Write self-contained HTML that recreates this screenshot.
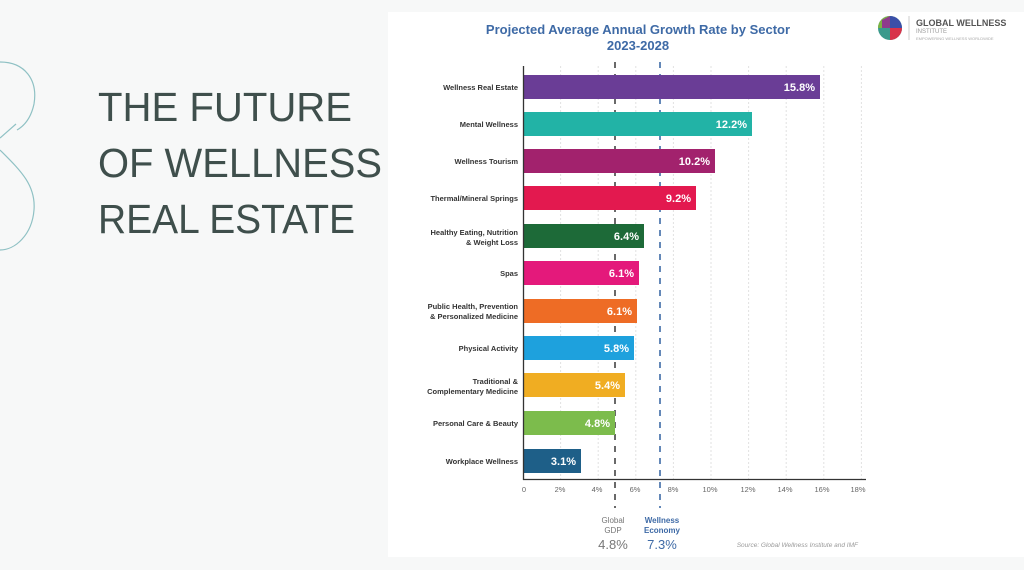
<!DOCTYPE html>
<html><head><meta charset="utf-8"><style>
html,body{margin:0;padding:0;background:#f7f8f8;}
svg{display:block;font-family:"Liberation Sans",sans-serif;}
</style></head><body>
<svg width="1024" height="570" viewBox="0 0 1024 570">
<rect width="1024" height="570" fill="#f7f8f8"/>
<!-- decorative 8 -->
<g fill="none" stroke="#8fc1c4" stroke-width="1.2">
<path d="M0,62 C25,62 38,80 34,104 C31,118 24,126 17,130"/>
<path d="M0,150 C20,170 36,185 34,210 C32,235 15,250 0,250"/>
<path d="M0,138 L16,124"/>
</g>
<g fill="#3f4f4c" font-size="41">
<text x="98" y="121" textLength="254" lengthAdjust="spacingAndGlyphs">THE FUTURE</text>
<text x="98" y="177" textLength="284" lengthAdjust="spacingAndGlyphs">OF WELLNESS</text>
<text x="98" y="233" textLength="257" lengthAdjust="spacingAndGlyphs">REAL ESTATE</text>
</g>
<!-- chart panel -->
<rect x="388" y="12" width="636" height="545" fill="#ffffff"/>
<text x="638" y="34" text-anchor="middle" font-size="13" font-weight="bold" fill="#3e6aa6">Projected Average Annual Growth Rate by Sector</text>
<text x="638" y="50" text-anchor="middle" font-size="13" font-weight="bold" fill="#3e6aa6">2023-2028</text>
<!-- logo -->
<g>
<circle cx="890" cy="28" r="12" fill="#3a9a8c"/>
<path d="M890,16 A12,12 0 0 1 902,28 L890,28Z" fill="#3b4fa8"/>
<path d="M878,28 A12,12 0 0 1 890,16 L890,28Z" fill="#7cb342"/>
<path d="M890,28 L902,28 A12,12 0 0 1 890,40Z" fill="#d8334a"/>
<path d="M882,20 L890,16 L890,28 L882,28Z" fill="#8e3b8c"/>
<line x1="909" y1="16" x2="909" y2="40" stroke="#ccc"/>
<text x="916" y="26" font-size="9" font-weight="bold" fill="#555">GLOBAL WELLNESS</text>
<text x="916" y="33" font-size="6" fill="#999">INSTITUTE</text>
<text x="916" y="40" font-size="4" fill="#aaa">EMPOWERING WELLNESS WORLDWIDE</text>
</g>
<!-- grid -->
<g stroke="#e2e2e2" stroke-dasharray="2,2" stroke-width="1">
<line x1="560.6" y1="66" x2="560.6" y2="479"/><line x1="598.2" y1="66" x2="598.2" y2="479"/>
<line x1="635.8" y1="66" x2="635.8" y2="479"/><line x1="673.4" y1="66" x2="673.4" y2="479"/>
<line x1="711" y1="66" x2="711" y2="479"/><line x1="748.6" y1="66" x2="748.6" y2="479"/>
<line x1="786.2" y1="66" x2="786.2" y2="479"/><line x1="823.8" y1="66" x2="823.8" y2="479"/>
<line x1="861.4" y1="66" x2="861.4" y2="479"/>
</g>
<!-- reference lines (behind bars) -->
<line x1="615" y1="62" x2="615" y2="508" stroke="#444" stroke-width="1.6" stroke-dasharray="6,6"/>
<line x1="660" y1="62" x2="660" y2="508" stroke="#3e6aa6" stroke-width="1.6" stroke-dasharray="6,6"/>
<!-- bars -->
<g>
<rect x="523" y="75" width="297" height="24" fill="#6a3d96"/>
<rect x="523" y="112" width="229" height="24" fill="#22b3a6"/>
<rect x="523" y="149" width="192" height="24" fill="#a2226d"/>
<rect x="523" y="186" width="173" height="24" fill="#e3194f"/>
<rect x="523" y="224" width="121" height="24" fill="#1d6a38"/>
<rect x="523" y="261" width="116" height="24" fill="#e4197b"/>
<rect x="523" y="299" width="114" height="24" fill="#ee6c25"/>
<rect x="523" y="336" width="111" height="24" fill="#1ea1dd"/>
<rect x="523" y="373" width="102" height="24" fill="#f0ad22"/>
<rect x="523" y="411" width="92" height="24" fill="#7cbc4c"/>
<rect x="523" y="449" width="58" height="24" fill="#1e5f88"/>
</g>
<g fill="#fff" font-size="11" font-weight="bold" text-anchor="end">
<text x="815" y="91">15.8%</text><text x="747" y="128">12.2%</text>
<text x="710" y="165">10.2%</text><text x="691" y="202">9.2%</text>
<text x="639" y="240">6.4%</text><text x="634" y="277">6.1%</text>
<text x="632" y="315">6.1%</text><text x="629" y="352">5.8%</text>
<text x="620" y="389">5.4%</text><text x="610" y="427">4.8%</text>
<text x="576" y="465">3.1%</text>
</g>
<g fill="#333" font-size="7.5" font-weight="bold" text-anchor="end">
<text x="518" y="90">Wellness Real Estate</text>
<text x="518" y="127">Mental Wellness</text>
<text x="518" y="164">Wellness Tourism</text>
<text x="518" y="201">Thermal/Mineral Springs</text>
<text x="518" y="235">Healthy Eating, Nutrition</text><text x="518" y="245">&amp; Weight Loss</text>
<text x="518" y="276">Spas</text>
<text x="518" y="309">Public Health, Prevention</text><text x="518" y="319">&amp; Personalized Medicine</text>
<text x="518" y="351">Physical Activity</text>
<text x="518" y="384">Traditional &amp;</text><text x="518" y="394">Complementary Medicine</text>
<text x="518" y="426">Personal Care &amp; Beauty</text>
<text x="518" y="464">Workplace Wellness</text>
</g>
<!-- axes -->
<line x1="523.5" y1="66" x2="523.5" y2="480" stroke="#333" stroke-width="1.3"/>
<line x1="523" y1="479.5" x2="866" y2="479.5" stroke="#333" stroke-width="1.3"/>
<g fill="#666" font-size="7.5" text-anchor="middle">
<text x="524" y="492">0</text><text x="560" y="492">2%</text><text x="597" y="492">4%</text>
<text x="635" y="492">6%</text><text x="673" y="492">8%</text><text x="710" y="492">10%</text>
<text x="748" y="492">12%</text><text x="785" y="492">14%</text><text x="822" y="492">16%</text>
<text x="858" y="492">18%</text>
</g>
<g font-size="8" text-anchor="middle">
<text x="613" y="523" fill="#777">Global</text><text x="613" y="533" fill="#777">GDP</text>
<text x="662" y="523" fill="#3e6aa6" font-weight="bold">Wellness</text><text x="662" y="533" fill="#3e6aa6" font-weight="bold">Economy</text>
</g>
<text x="613" y="549" text-anchor="middle" font-size="13" fill="#777">4.8%</text>
<text x="662" y="549" text-anchor="middle" font-size="13" fill="#3e6aa6">7.3%</text>
<text x="858" y="547" text-anchor="end" font-size="6.5" font-style="italic" fill="#999">Source: Global Wellness Institute and IMF</text>
</svg>
</body></html>
